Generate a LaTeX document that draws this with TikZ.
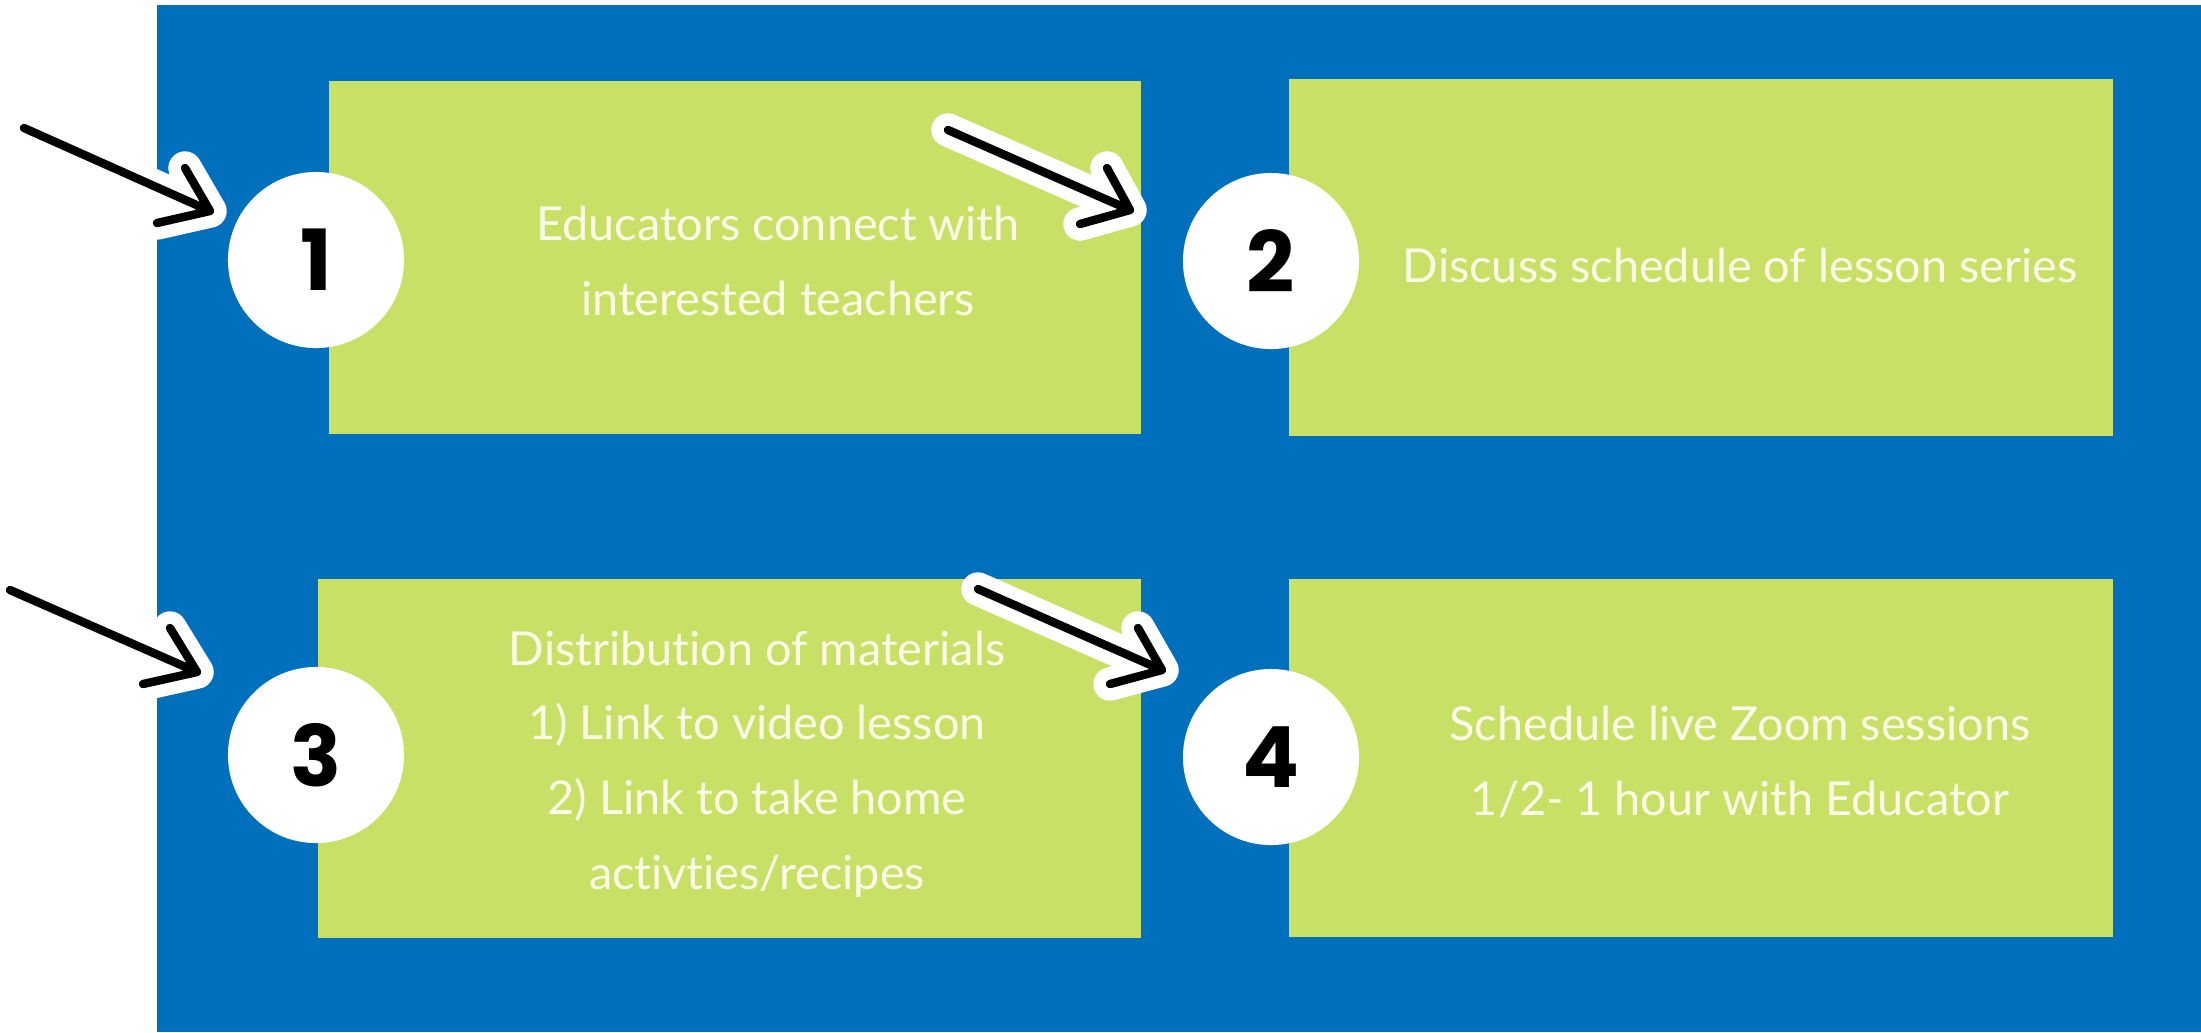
\documentclass[tikz,border=0pt]{standalone}
\usepackage{fontspec}
\setmainfont{Lato}[Ligatures=NoCommon]
\newfontfamily\numfont{Poppins}
\usetikzlibrary{positioning}
\definecolor{bgblue}{RGB}{0,112,188}
\definecolor{boxgreen}{RGB}{201,224,102}
\definecolor{txtwhite}{RGB}{250,252,232}
\tikzset{
	stepbox/.style={fill=boxgreen,inner sep=0pt,anchor=north west},
	stepnum/.style={circle,fill=white,minimum size=1.76cm,inner sep=0pt,font=\numfont\bfseries\fontsize{24}{24}\selectfont},
	steptext/.style={text=txtwhite,align=center,inner sep=0pt,font=\fontsize{13.3}{21.2}\selectfont},
	halo/.style={white,line width=9.5pt,line cap=round,line join=round},
	pen/.style={black,line width=2.4pt,line cap=round,line join=round},
}

\begin{document}
\begin{tikzpicture}[x=0.01cm,y=-0.01cm]
		\useasboundingbox (0,0) rectangle (2201,1032);
		\fill[bgblue] (157,5) rectangle (2201,1032);
		
		\node[stepbox,minimum width=8.12cm,minimum height=3.53cm] (b1) at (328,80) {};
		\node[stepbox,minimum width=8.24cm,minimum height=3.57cm,anchor=west,right=1.46cm of b1] (b2) {};
		\node[stepbox,minimum width=8.23cm,minimum height=3.59cm] (b3) at (317,578) {};
		\node[stepbox,minimum width=8.24cm,minimum height=3.58cm,anchor=west,right=1.46cm of b3] (b4) {};
		
		\node[stepnum] (n1) at (316,260) {1};
		\node[stepnum] (n2) at (1271,261) {2};
		\node[stepnum] (n3) at (316,755) {3};
		\node[stepnum] (n4) at (1271,757) {4};
		
		\node[steptext] (t1) at (778,261) {Educators connect with\\interested teachers};
		\node[steptext] (t2) at (1740,265) {Discuss schedule of lesson series};
		\node[steptext] (t3) at (757,764) {Distribution of materials\\1) Link to video lesson\\2) Link to take home\\activties/recipes};
		\node[steptext] (t4) at (1740,762) {Schedule live Zoom sessions\\1/2- 1 hour with Educator};
		
		\coordinate (s1) at (24,128);
		\coordinate (p1) at (210,211);
		\coordinate (u1) at (185,168);
		\coordinate (w1) at (157,223);
		\coordinate (s2) at (948,130);
		\coordinate (p2) at (1130,210);
		\coordinate (u2) at (1107,168);
		\coordinate (w2) at (1080,224);
		\coordinate (s3) at (10,590);
		\coordinate (p3) at (197,672);
		\coordinate (u3) at (170,628);
		\coordinate (w3) at (143,684);
		\coordinate (s4) at (978,589);
		\coordinate (p4) at (1162,670);
		\coordinate (u4) at (1138,628);
		\coordinate (w4) at (1110,684);
		
		\foreach \i in {1,...,4}{
			\draw[halo] (s\i)--(p\i) (u\i)--(p\i)--(w\i);
			\draw[pen] (s\i)--(p\i) (u\i)--(p\i)--(w\i);
		}
	\end{tikzpicture}
\end{document}
